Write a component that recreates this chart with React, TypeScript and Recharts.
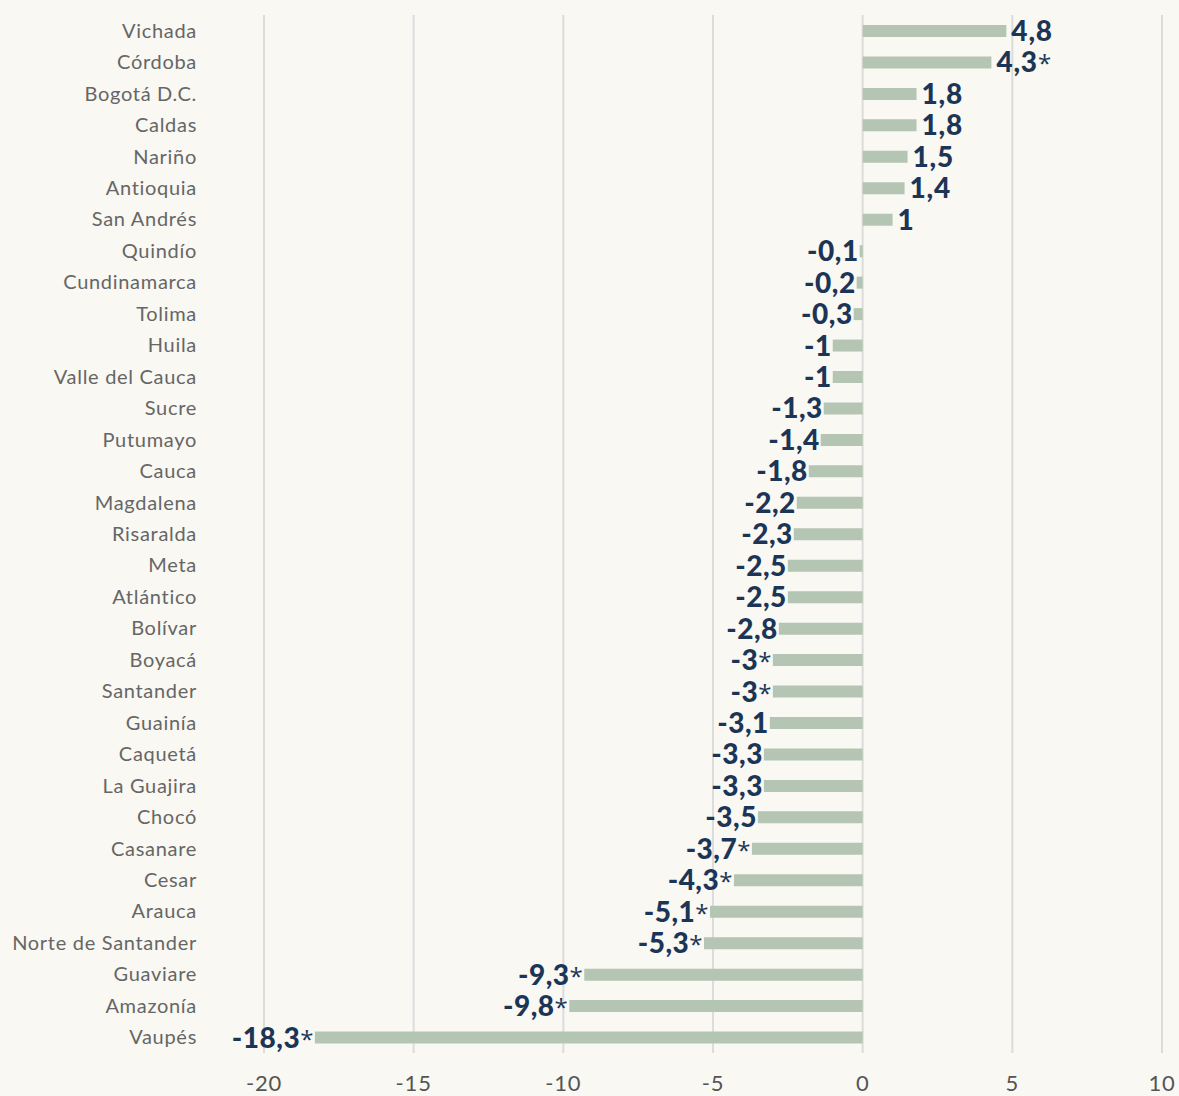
import React from "react";
import { BarChart, Bar, XAxis, YAxis, CartesianGrid, LabelList } from "recharts";

const categories = ["Vichada","Córdoba","Bogotá D.C.","Caldas","Nariño","Antioquia","San Andrés","Quindío","Cundinamarca","Tolima","Huila","Valle del Cauca","Sucre","Putumayo","Cauca","Magdalena","Risaralda","Meta","Atlántico","Bolívar","Boyacá","Santander","Guainía","Caquetá","La Guajira","Chocó","Casanare","Cesar","Arauca","Norte de Santander","Guaviare","Amazonía","Vaupés"];
const values = [4.8,4.3,1.8,1.8,1.5,1.4,1,-0.1,-0.2,-0.3,-1,-1,-1.3,-1.4,-1.8,-2.2,-2.3,-2.5,-2.5,-2.8,-3,-3,-3.1,-3.3,-3.3,-3.5,-3.7,-4.3,-5.1,-5.3,-9.3,-9.8,-18.3];
const significant = [false,true,false,false,false,false,false,false,false,false,false,false,false,false,false,false,false,false,false,false,true,true,false,false,false,false,true,true,true,true,true,true,true];
const xTicks = [-20,-15,-10,-5,0,5,10];

const data = categories.map((c, i) => ({ name: c, value: values[i], sig: significant[i] }));

const CAT_FONT = "Lato, 'Open Sans', sans-serif";
const STAR_FONT = "'Open Sans', sans-serif";
const VAL_FONT = "Lato, 'Open Sans', sans-serif";

const YTick = (props: any) => {
  const { y, payload } = props;
  return (
    <text x={197} y={y} dy={7} textAnchor="end" fontFamily={CAT_FONT} fontSize={20} fill="#666666" letterSpacing={0.7}>
      {payload.value}
    </text>
  );
};

const XTick = (props: any) => {
  const { x, y, payload } = props;
  return (
    <text x={x} y={y} dy={30} textAnchor="middle" fontFamily={CAT_FONT} fontSize={22} fill="#555555" letterSpacing={0.8}>
      {payload.value}
    </text>
  );
};

const ValueLabel = (props: any) => {
  const { x, y, width, height, index } = props;
  const v = values[index];
  const sig = significant[index];
  const txt = String(v).replace(".", ",");
  const cy = y + height / 2 + 10;
  const star = sig ? <tspan fontWeight={400} fontSize={24} fontFamily={STAR_FONT}>*</tspan> : null;
  if (v >= 0) {
    return (
      <text x={x + width + 5} y={cy} textAnchor="start" fontFamily={VAL_FONT} fontSize={28} fontWeight={900} fill="#1c3557" letterSpacing={0.8}>
        {txt}
        {star}
      </text>
    );
  }
  const lx = Math.min(x, x + width);
  return (
    <text x={lx - 1} y={cy} textAnchor="end" fontFamily={VAL_FONT} fontSize={28} fontWeight={900} fill="#1c3557" letterSpacing={0.5}>
      {txt}
      {star}
    </text>
  );
};

export default function App() {
  return (
    <div style={{ position: "absolute", left: 0, top: 0, width: 1179, height: 1096, background: "#f9f8f2" }}>
      <BarChart
        width={1179}
        height={1096}
        data={data}
        layout="vertical"
        margin={{ top: 15, right: 17, bottom: 0, left: 0 }}
        barSize={12}
      >
        <CartesianGrid horizontal={false} vertical={true} stroke="#dcdcdc" strokeWidth={2} />
        <XAxis
          type="number"
          domain={[-20, 10]}
          ticks={xTicks}
          axisLine={false}
          tickLine={false}
          height={43}
          tick={<XTick />}
          interval={0}
        />
        <YAxis
          type="category"
          dataKey="name"
          width={264}
          axisLine={false}
          tickLine={false}
          tick={<YTick />}
          interval={0}
        />
        <Bar dataKey="value" fill="#b5c5b3" isAnimationActive={false}>
          <LabelList dataKey="value" content={<ValueLabel />} />
        </Bar>
      </BarChart>
    </div>
  );
}
